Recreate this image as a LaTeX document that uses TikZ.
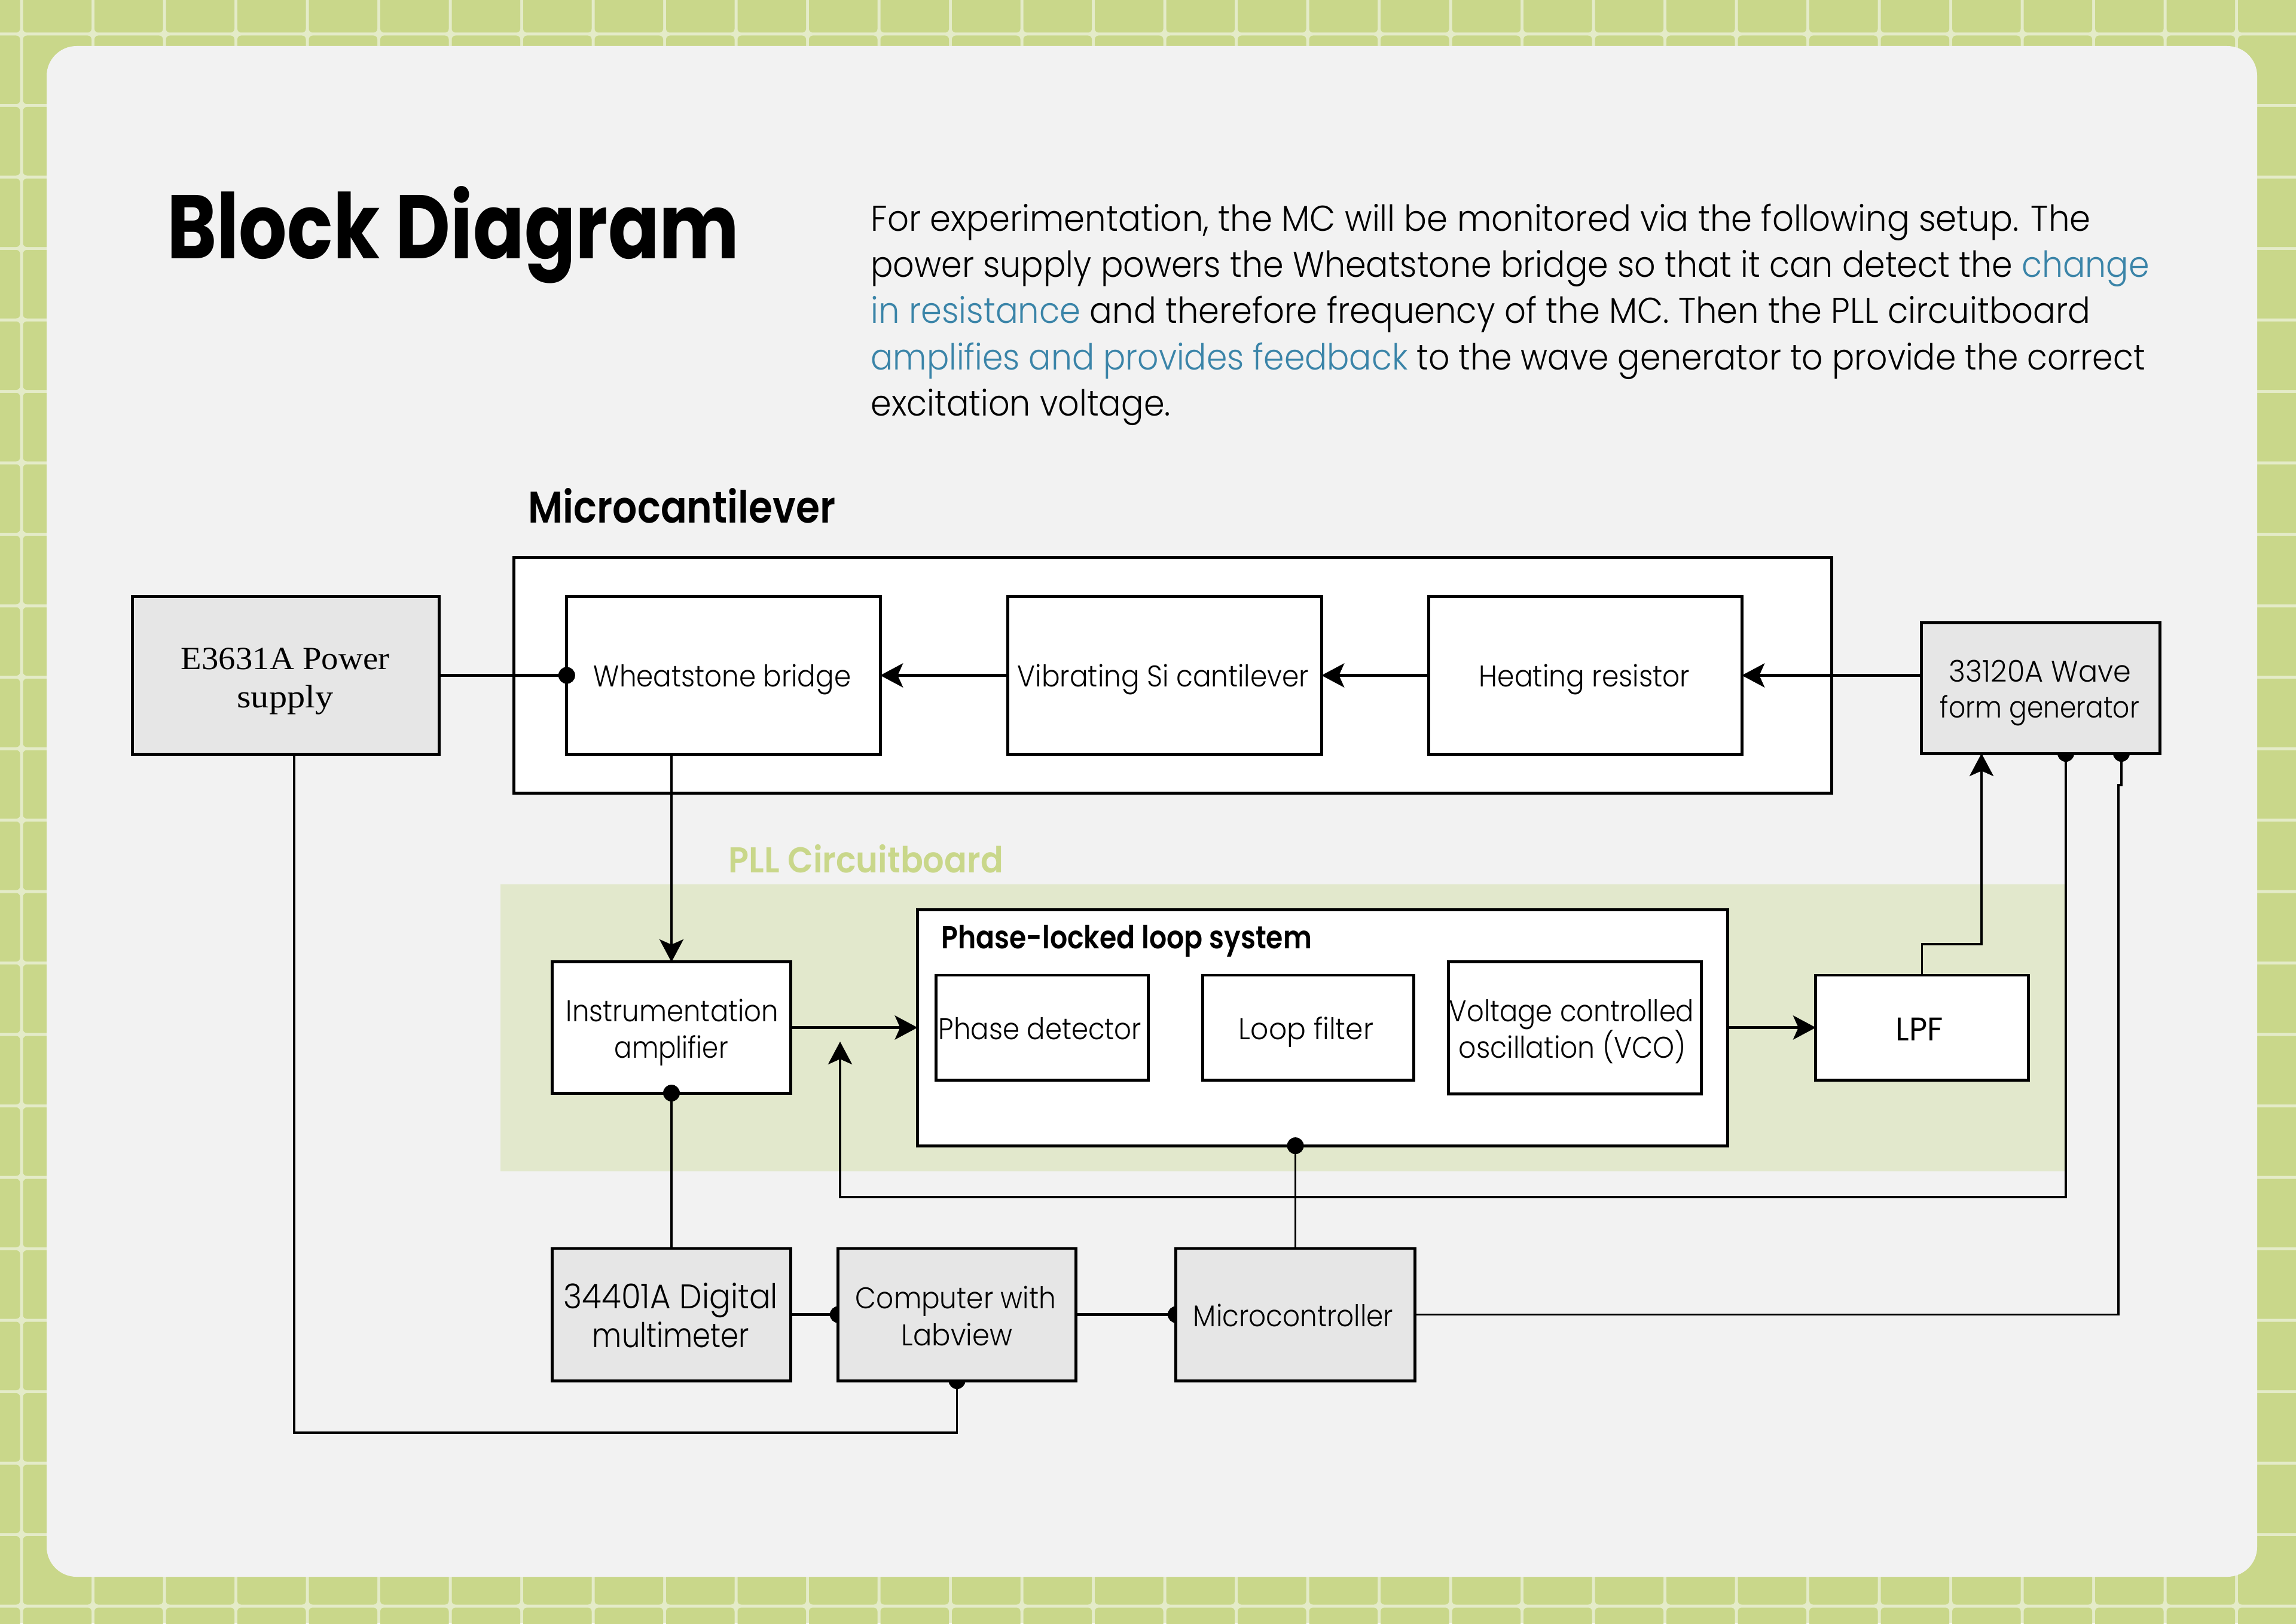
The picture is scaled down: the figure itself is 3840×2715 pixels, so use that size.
\documentclass[tikz,border=0pt]{standalone}
\usepackage{fontspec}
\usepackage{graphicx}
\usetikzlibrary{arrows.meta}
\IfFontExistsTF{Poppins Light}{\newfontfamily\lblfont{Poppins Light}}{\newfontfamily\lblfont{Poppins}}
\newfontfamily\popfont{Poppins}
\IfFontExistsTF{Poppins SemiBold}{\newfontfamily\semifont{Poppins SemiBold}}{\newcommand\semifont{\popfont\bfseries}}
\newfontfamily\serfont{Liberation Serif}
\definecolor{bggreen}{RGB}{201,215,138}
\definecolor{gridline}{RGB}{228,235,200}
\definecolor{panelc}{RGB}{242,242,242}
\definecolor{pllgreen}{RGB}{226,232,204}
\definecolor{boxgrey}{RGB}{230,230,230}
\definecolor{linkblue}{RGB}{58,132,168}
\newsavebox\fitbox
\newlength\fitlen
\newcommand\fitw[2]{\sbox\fitbox{#2}\setlength\fitlen{\wd\fitbox}\pgfmathsetmacro\fitf{#1*0.2845274/\fitlen}\scalebox{\fitf}[1]{\usebox\fitbox}}
\newcommand\bl[1]{\textcolor{linkblue}{#1}}
\pgfdeclarelayer{back}
\pgfdeclarelayer{mid}
\pgfdeclarelayer{front}
\pgfsetlayers{back,mid,main,front}
\tikzset{
  blk/.style={draw=black, line width=1.4pt, inner sep=0pt, outer sep=0pt, rectangle},
  wbox/.style={blk, fill=white},
  gbox/.style={blk, fill=boxgrey},
  lbl/.style={anchor=base, inner sep=0pt, font=\lblfont\fontsize{14.23pt}{17pt}\selectfont},
  para/.style={anchor=base west, inner sep=0pt, font=\lblfont\fontsize{17.07pt}{20pt}\selectfont},
  conn/.style={line width=1.1pt, draw=black},
  thk/.style={line width=1.4pt, draw=black},
  arr/.style={-{Stealth[length=10.8pt,width=11.4pt,inset=2.5pt]}},
  dotc/.style={fill=black},
}
\begin{document}
\begin{tikzpicture}[x=0.01cm,y=-0.01cm]
\useasboundingbox (0,0) rectangle (3840,2715);
\begin{pgfonlayer}{back}
  \fill[gridline] (0,0) rectangle (3840,2715);
  \foreach \i in {-1,...,31}{\foreach \j in {-1,...,22}{
    \fill[bggreen, rounded corners=1.8pt] ({36+119.5*\i+2.5},{57+119.5*\j+2.5}) rectangle ({36+119.5*(\i+1)-2.5},{57+119.5*(\j+1)-2.5});
  }}
  \fill[panelc, rounded corners=0.5cm] (78,77) rectangle (3775,2637);
  \fill[pllgreen] (837,1479) rectangle (3453,1959);
  \node[wbox, minimum width=22.03cm, minimum height=3.93cm] (mc) at (1961.5,1129.5) {};
  \node[wbox, minimum width=13.54cm, minimum height=3.94cm] (pll) at (2212,1719) {};
\end{pgfonlayer}

% headings and paragraph
\node[anchor=base west, inner sep=0pt, font=\popfont\bfseries\fontsize{42.96pt}{50pt}\selectfont] (title) at (278.6,432) {\fitw{957}{Block Diagram}};
\node[para] (p1) at (1455.7,386) {\fitw{2039}{For experimentation, the MC will be monitored via the following setup. The}};
\node[para] (p2) at (1455.7,463.3) {\fitw{2137}{power supply powers the Wheatstone bridge so that it can detect the \bl{change}}};
\node[para] (p3) at (1455.7,540) {\fitw{2039}{\bl{in resistance} and therefore frequency of the MC. Then the PLL circuitboard}};
\node[para] (p4) at (1455.7,618) {\fitw{2130}{\bl{amplifies and provides feedback} to the wave generator to provide the correct}};
\node[para] (p5) at (1455.7,695) {\fitw{501}{excitation voltage.}};
\node[anchor=base west, inner sep=0pt, font=\semifont\fontsize{21.05pt}{25pt}\selectfont] (mch) at (883,874) {\fitw{513.5}{Microcantilever}};
\node[anchor=base west, inner sep=0pt, text=bggreen, font=\semifont\fontsize{17.07pt}{20pt}\selectfont] (pllh) at (1218,1459) {\fitw{459}{PLL Circuitboard}};
\node[anchor=base west, inner sep=0pt, font=\semifont\fontsize{15.08pt}{18pt}\selectfont] (pllsys) at (1574,1586) {\fitw{619}{Phase-locked loop system}};

% blocks
\node[gbox, minimum width=5.12cm, minimum height=2.63cm] (ps) at (478,1129.5) {};
\node[wbox, minimum width=5.24cm, minimum height=2.63cm] (ws) at (1210,1129.5) {};
\node[wbox, minimum width=5.24cm, minimum height=2.63cm] (vs) at (1948,1129.5) {};
\node[wbox, minimum width=5.23cm, minimum height=2.63cm] (hr) at (2651.5,1129.5) {};
\node[gbox, minimum width=3.98cm, minimum height=2.18cm] (wg) at (3413,1151) {};
\node[wbox, minimum width=3.98cm, minimum height=2.19cm] (ia) at (1123,1718.5) {};
\node[wbox, minimum width=3.54cm, minimum height=1.75cm] (pd) at (1743,1718.5) {};
\node[wbox, minimum width=3.52cm, minimum height=1.75cm] (lf) at (2188,1718.5) {};
\node[wbox, minimum width=4.22cm, minimum height=2.20cm] (vco) at (2634,1719) {};
\node[wbox, minimum width=3.55cm, minimum height=1.75cm] (lpf) at (3214.5,1718.5) {};
\node[gbox, minimum width=3.98cm, minimum height=2.21cm] (dmm) at (1123,2198.5) {};
\node[gbox, minimum width=3.97cm, minimum height=2.21cm] (pc) at (1600.5,2198.5) {};
\node[gbox, minimum width=3.99cm, minimum height=2.21cm] (mcu) at (2166.5,2198.5) {};

% labels
\node[lbl, font=\serfont\fontsize{15.36pt}{18pt}\selectfont] (psT1) at (477,1119) {\fitw{348}{E3631A Power}};
\node[lbl, font=\serfont\fontsize{15.36pt}{18pt}\selectfont] (psT2) at (477,1183) {\fitw{161}{supply}};
\node[lbl] (wsT) at (1208,1148) {\fitw{430}{Wheatstone bridge}};
\node[lbl] (vsT) at (1945.5,1148) {\fitw{487}{Vibrating Si cantilever}};
\node[lbl] (hrT) at (2650,1148) {\fitw{352}{Heating resistor}};
\node[lbl] (wgT1) at (3412,1140) {\fitw{304}{33120A Wave}};
\node[lbl] (wgT2) at (3411.5,1200) {\fitw{333}{form generator}};
\node[lbl] (iaT1) at (1124.5,1708) {\fitw{355}{Instrumentation}};
\node[lbl] (iaT2) at (1122.7,1769) {\fitw{190}{amplifier}};
\node[lbl] (pdT) at (1739.5,1738.7) {\fitw{339}{Phase detector}};
\node[lbl] (lfT) at (2184.5,1738.7) {\fitw{225}{Loop filter}};
\node[lbl] (vcoT1) at (2628.5,1708) {\fitw{409}{Voltage controlled}};
\node[lbl] (vcoT2) at (2630,1769) {\fitw{380}{oscillation (VCO)}};
\node[lbl, font=\popfont\fontsize{15.6pt}{18pt}\selectfont] (lpfT) at (3210,1740) {\fitw{79}{LPF}};
\node[lbl, font=\lblfont\fontsize{16.22pt}{19pt}\selectfont] (dmmT1) at (1122,2188) {\fitw{358}{34401A Digital}};
\node[lbl, font=\lblfont\fontsize{16.22pt}{19pt}\selectfont] (dmmT2) at (1122,2253) {\fitw{262}{multimeter}};
\node[lbl] (pcT1) at (1598.5,2188) {\fitw{335}{Computer with}};
\node[lbl] (pcT2) at (1600.5,2250) {\fitw{185}{Labview}};
\node[lbl] (mcuT) at (2163,2218) {\fitw{334}{Microcontroller}};

% connectors
\coordinate (wgA) at (3314,1260);
\coordinate (wgB) at (3455,1260);
\coordinate (wgC) at (3548,1260);
\coordinate (fbk) at (1405,1742);
\coordinate (psb) at (492,1261);
\begin{pgfonlayer}{mid}
  \draw[thk] (ps.east) -- (ws.west);
  \draw[thk,arr] (vs.west) -- (ws.east);
  \draw[thk,arr] (hr.west) -- (vs.east);
  \draw[thk,arr] (hr.east -| wg.west) -- (hr.east);
  \draw[conn,arr] (ia.north |- ws.south) -- (ia.north);
  \draw[thk,arr] (ia.east) -- (ia.east -| pll.west);
  \draw[thk,arr] (pll.east |- lpf.west) -- (lpf.west);
  \draw[conn,arr] (lpf.north) -- ++(0,-52) -| (wgA);
  \draw[conn,arr] (wgB) -- ++(0,742) -| (fbk);
  \draw[conn] (wgC) -- ++(0,53) -- ++(-5,0) |- (mcu.east);
  \draw[conn] (mcu.north) -- (mcu.north |- pll.south);
  \draw[conn] (ia.south) -- (dmm.north);
  \draw[thk] (dmm.east) -- (pc.west);
  \draw[thk] (pc.east) -- (mcu.west);
  \draw[conn] (pc.south) -- ++(0,87) -| (psb);
  \fill[dotc] (pc.west) circle[radius=0.14cm];
  \fill[dotc] (mcu.west) circle[radius=0.14cm];
  \fill[dotc] (pc.south) circle[radius=0.14cm];
  \fill[dotc] (wgB) circle[radius=0.14cm];
  \fill[dotc] (wgC) circle[radius=0.14cm];
\end{pgfonlayer}
\begin{pgfonlayer}{front}
  \fill[dotc] (ws.west) circle[radius=0.14cm];
  \fill[dotc] (ia.south) circle[radius=0.14cm];
  \fill[dotc] (mcu.north |- pll.south) circle[radius=0.14cm];
\end{pgfonlayer}
\end{tikzpicture}
\end{document}
